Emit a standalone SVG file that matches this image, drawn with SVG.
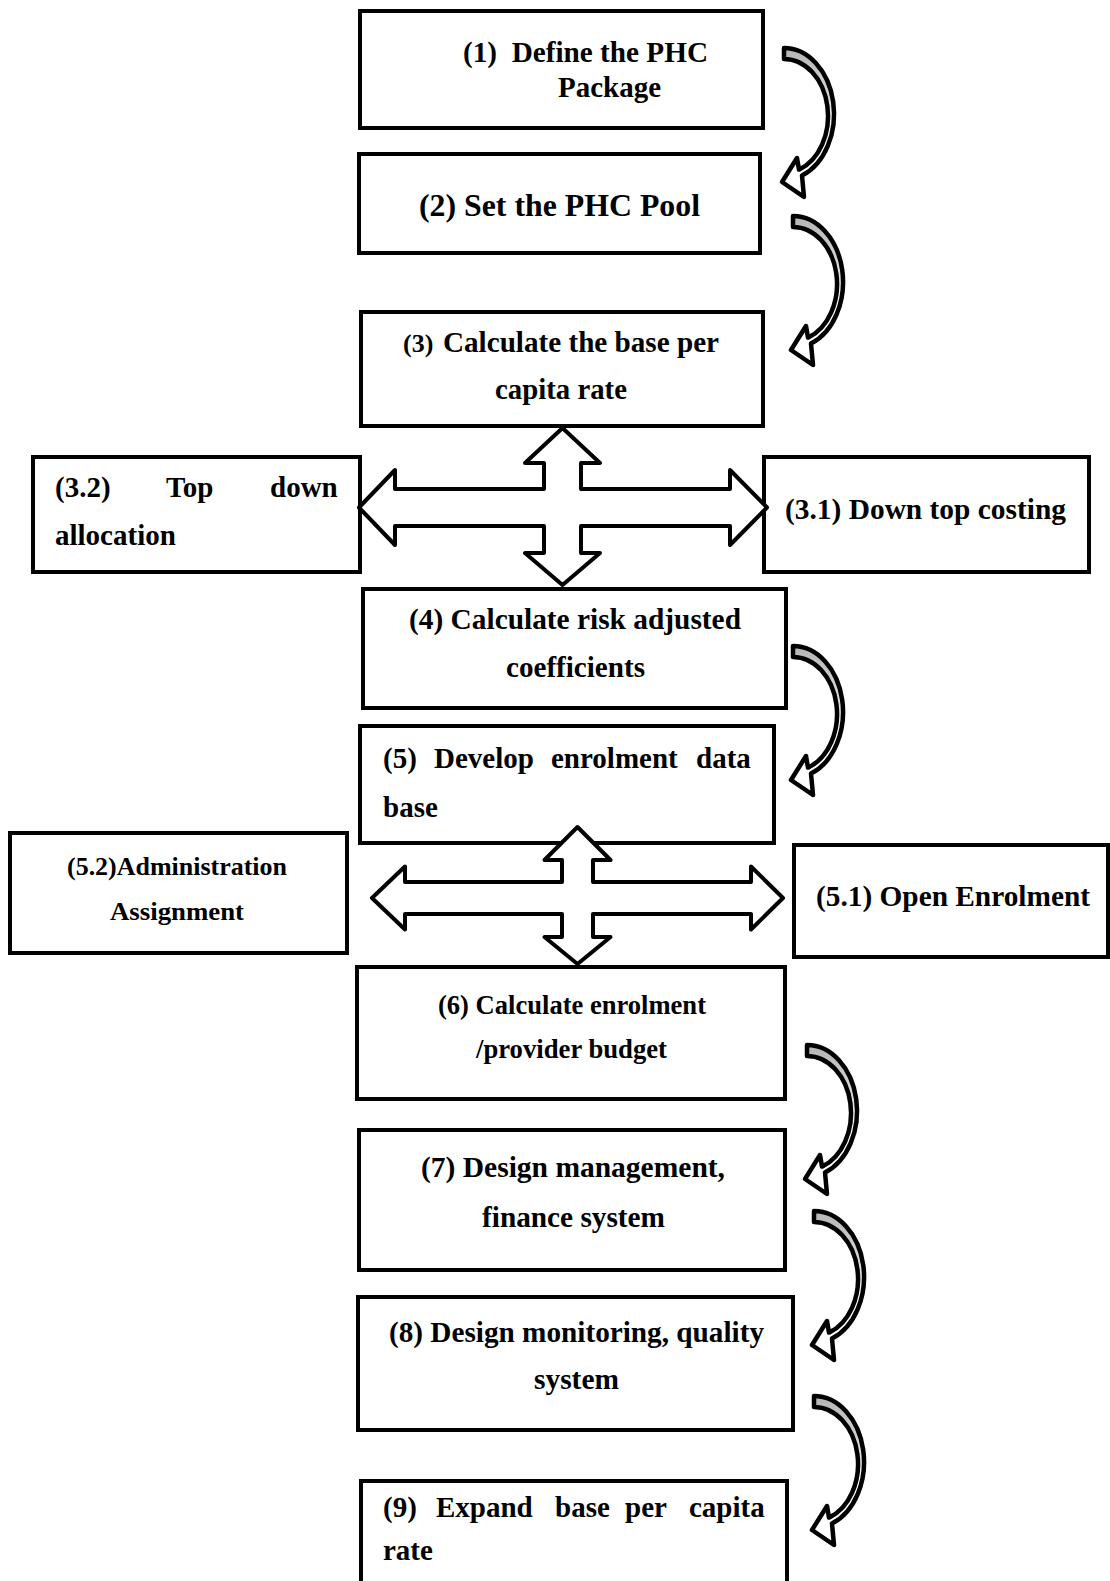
<svg xmlns="http://www.w3.org/2000/svg" xmlns:xlink="http://www.w3.org/1999/xlink" width="1110" height="1581" viewBox="0 0 1110 1581">
<style>
.box{fill:#fff;stroke:#000;stroke-width:4}
.t{font-family:"Liberation Serif","Times New Roman",serif;font-weight:bold;font-size:29px;fill:#000}
.cross{fill:#fff;stroke:#000;stroke-width:4;stroke-linejoin:round}
.curv{fill:url(#g);stroke:#000;stroke-width:4.5;stroke-linejoin:round}
</style>
<defs>
<linearGradient id="g" x1="0" y1="0" x2="0" y2="1">
<stop offset="0" stop-color="#b4b4b4"/>
<stop offset="0.35" stop-color="#dadada"/>
<stop offset="0.6" stop-color="#ffffff"/>
<stop offset="1" stop-color="#ffffff"/>
</linearGradient>
<path id="curv" d="M0 0 A50 66 0 0 1 18 127.6 L20 149 L-2 134 L13 110 L15 121.6 A44 57 0 0 0 0 11 Z"/>
</defs>
<rect width="1110" height="1581" fill="#fff"/>

<g id="n1">
<rect class="box" x="360" y="11" width="403" height="117"/>
<text class="t" x="463" y="62" textLength="245" lengthAdjust="spacingAndGlyphs" xml:space="preserve">(1)  Define the PHC</text>
<text class="t" x="558" y="97" textLength="103" lengthAdjust="spacingAndGlyphs">Package</text>
</g>
<g id="n2">
<rect class="box" x="359" y="154" width="401" height="99"/>
<text class="t" x="419" y="216" style="font-size:31px" textLength="281" lengthAdjust="spacingAndGlyphs">(2) Set the PHC Pool</text>
</g>
<g id="n3">
<rect class="box" x="361" y="312" width="402" height="114"/>
<text class="t" y="352"><tspan x="403" style="font-size:26px">(3)</tspan><tspan x="443" textLength="276" lengthAdjust="spacingAndGlyphs">Calculate the base per</tspan></text>
<text class="t" x="495" y="399" textLength="132" lengthAdjust="spacingAndGlyphs">capita rate</text>
</g>
<g id="n3_2">
<rect class="box" x="33" y="457" width="327" height="115"/>
<text class="t" y="497"><tspan x="55">(3.2)</tspan><tspan x="166">Top</tspan><tspan x="270">down</tspan></text>
<text class="t" x="55" y="545">allocation</text>
</g>
<g id="n3_1">
<rect class="box" x="764" y="457" width="325" height="115"/>
<text class="t" x="785" y="519" textLength="281" lengthAdjust="spacingAndGlyphs">(3.1) Down top costing</text>
</g>
<g id="n4">
<rect class="box" x="363" y="589" width="423" height="119"/>
<text class="t" x="409" y="629" textLength="332" lengthAdjust="spacingAndGlyphs">(4) Calculate risk adjusted</text>
<text class="t" x="506" y="677" textLength="139" lengthAdjust="spacingAndGlyphs">coefficients</text>
</g>
<g id="n5">
<rect class="box" x="360" y="726" width="414" height="117"/>
<text class="t" y="768"><tspan x="383">(5)</tspan><tspan x="434">Develop</tspan><tspan x="551">enrolment</tspan><tspan x="696">data</tspan></text>
<text class="t" x="383" y="817">base</text>
</g>
<g id="n5_2">
<rect class="box" x="10" y="833" width="337" height="120"/>
<text class="t" x="67" y="875" style="font-size:25px" textLength="220" lengthAdjust="spacingAndGlyphs">(5.2)Administration</text>
<text class="t" x="110" y="920" style="font-size:25px" textLength="134" lengthAdjust="spacingAndGlyphs">Assignment</text>
</g>
<g id="n5_1">
<rect class="box" x="794" y="845" width="314" height="112"/>
<text class="t" x="816" y="906" textLength="274" lengthAdjust="spacingAndGlyphs">(5.1) Open Enrolment</text>
</g>
<g id="n6">
<rect class="box" x="357" y="967" width="428" height="132"/>
<text class="t" x="438" y="1014" style="font-size:26.5px" textLength="268" lengthAdjust="spacingAndGlyphs">(6) Calculate enrolment</text>
<text class="t" x="476" y="1058" style="font-size:26.5px" textLength="191" lengthAdjust="spacingAndGlyphs">/provider budget</text>
</g>
<g id="n7">
<rect class="box" x="359" y="1130" width="426" height="140"/>
<text class="t" x="421" y="1177" textLength="304" lengthAdjust="spacingAndGlyphs">(7) Design management,</text>
<text class="t" x="482" y="1227" textLength="183" lengthAdjust="spacingAndGlyphs">finance system</text>
</g>
<g id="n8">
<rect class="box" x="358" y="1297" width="435" height="133"/>
<text class="t" x="389" y="1342" textLength="375" lengthAdjust="spacingAndGlyphs">(8) Design monitoring, quality</text>
<text class="t" x="534" y="1389" textLength="85" lengthAdjust="spacingAndGlyphs">system</text>
</g>
<g id="n9">
<rect class="box" x="361" y="1481" width="426" height="130"/>
<text class="t" y="1517"><tspan x="383">(9)</tspan><tspan x="436">Expand</tspan><tspan x="555">base</tspan><tspan x="625">per</tspan><tspan x="689">capita</tspan></text>
<text class="t" x="383" y="1560">rate</text>
</g>

<g id="connectors">
<use xlink:href="#curv" href="#curv" class="curv" transform="translate(784,48)"/>
<use xlink:href="#curv" href="#curv" class="curv" transform="translate(793,216)"/>
<use xlink:href="#curv" href="#curv" class="curv" transform="translate(793,646)"/>
<use xlink:href="#curv" href="#curv" class="curv" transform="translate(807,1045)"/>
<use xlink:href="#curv" href="#curv" class="curv" transform="translate(814,1211)"/>
<use xlink:href="#curv" href="#curv" class="curv" transform="translate(814,1396)"/>
<polygon class="cross" points="562.5,428 600,463 581,463 581,489 730,489 730,470 767,507.5 730,545 730,526 581,526 581,553 600,553 562.5,585 525,553 544,553 544,526 395,526 395,545 359,507.5 395,470 395,489 544,489 544,463 525,463"/>
<polygon class="cross" points="577.5,827 610.5,860 593,860 593,882 751,882 751,866.5 783,898 751,929.5 751,914 593,914 593,937 610.5,937 577.5,964 544.5,937 562,937 562,914 405,914 405,929.5 372,898 405,866.5 405,882 562,882 562,860 544.5,860"/>
</g>
</svg>
